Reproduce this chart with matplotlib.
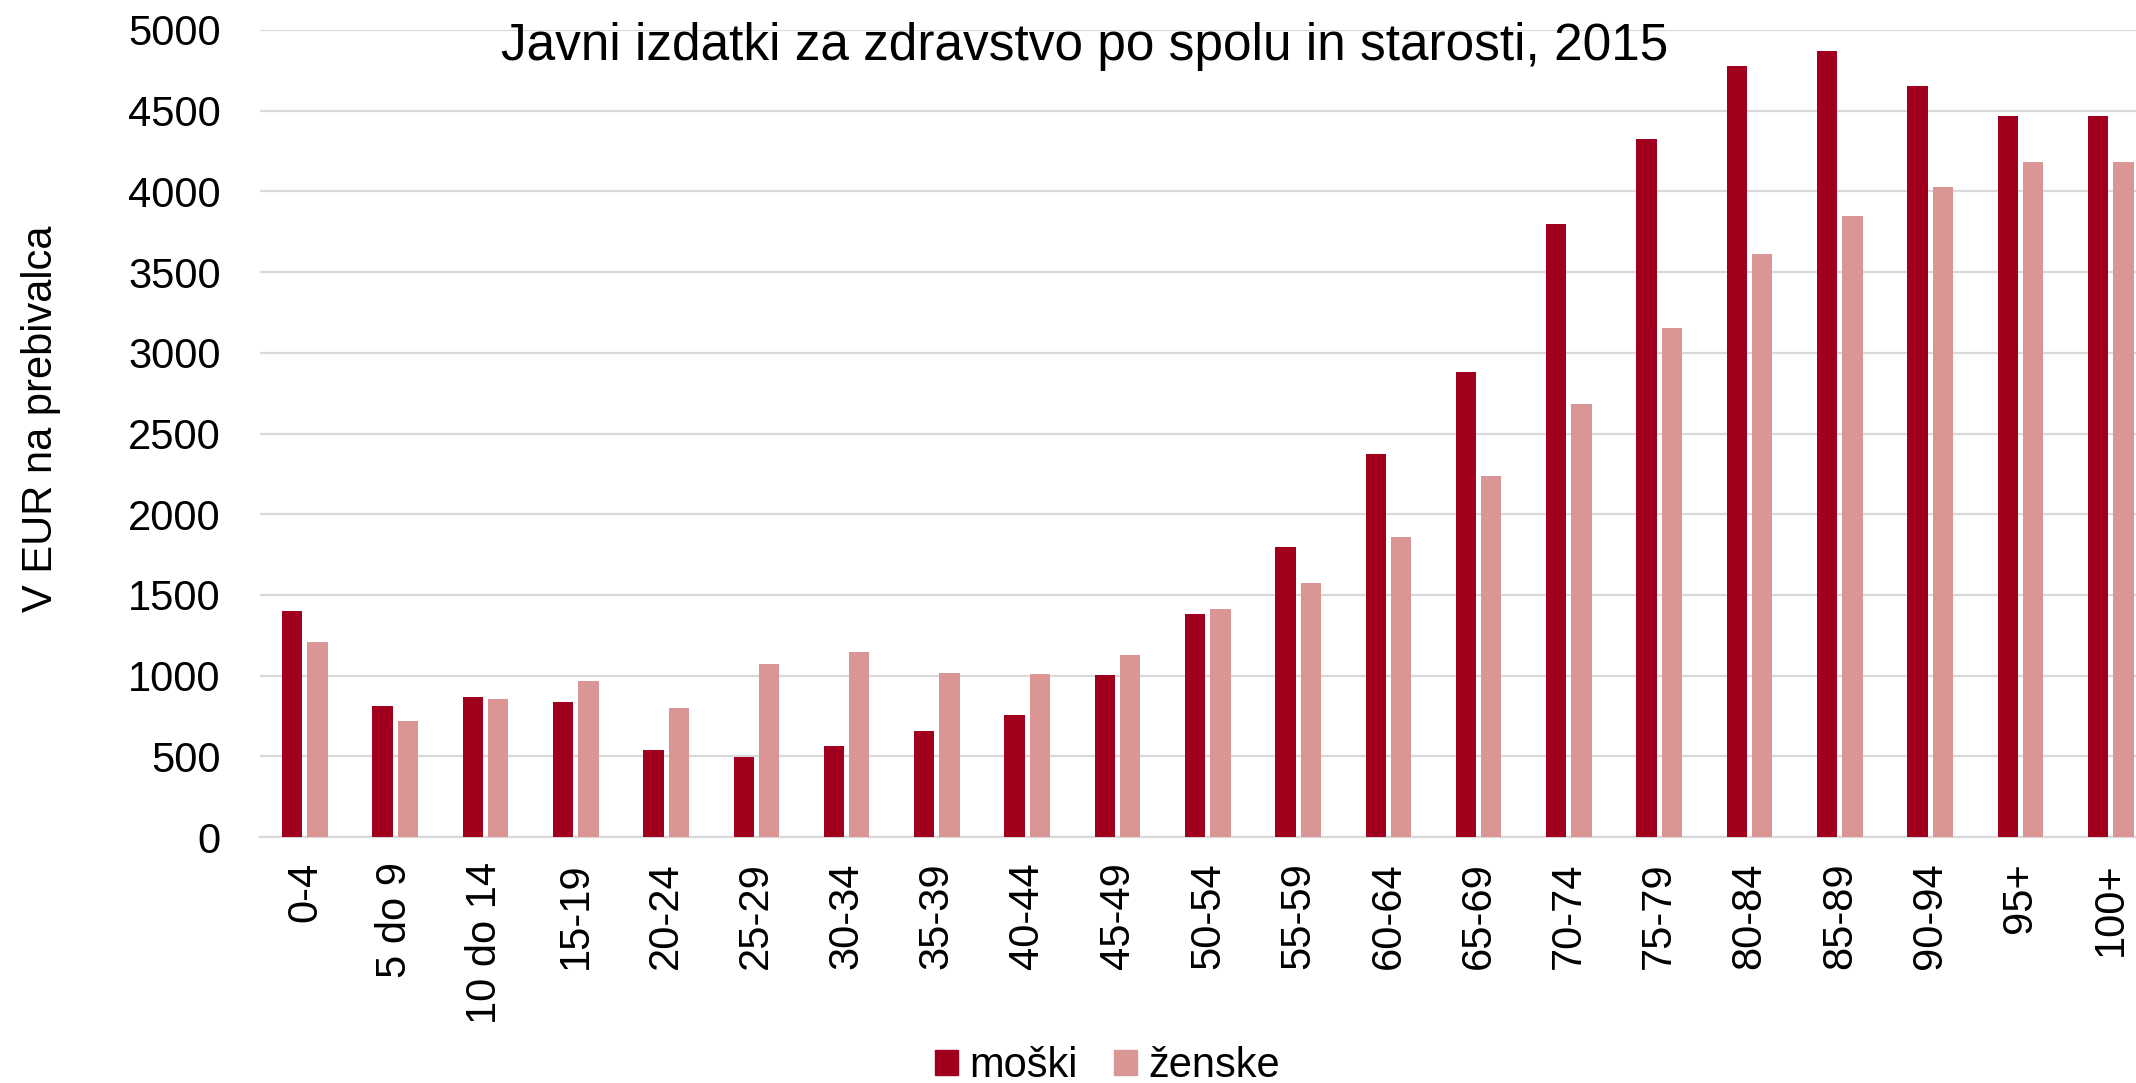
import matplotlib.pyplot as plt
import numpy as np
from matplotlib.patches import Patch

plt.rcParams["font.family"] = ["Liberation Sans", "DejaVu Sans"]

# age groups and spending per inhabitant (EUR), 2015
age_groups = ["0-4", "5 do 9", "10 do 14", "15-19", "20-24", "25-29", "30-34",
              "35-39", "40-44", "45-49", "50-54", "55-59", "60-64", "65-69",
              "70-74", "75-79", "80-84", "85-89", "90-94", "95+", "100+"]
male = [1403, 815, 870, 836, 540, 499, 567, 656, 757, 1002, 1382, 1800,
        2374, 2884, 3801, 4324, 4779, 4871, 4650, 4470, 4470]
female = [1206, 717, 853, 965, 802, 1070, 1148, 1019, 1012, 1128, 1410, 1576,
          1858, 2235, 2680, 3156, 3614, 3849, 4029, 4181, 4181]

male_color = "#A0001E"
female_color = "#D99694"
grid_color = "#D9D9D9"

fig = plt.figure(figsize=(21.36, 10.83), dpi=100)
ax = fig.add_axes([0.1216, 0.2271, 1.0 - 0.1216, 0.9723 - 0.2271])

x = np.arange(len(age_groups))
w = 0.225
off = 0.14
ax.bar(x - off, male, w, color=male_color, zorder=3)
ax.bar(x + off, female, w, color=female_color, zorder=3)

ax.set_xlim(-0.5, 20.28)
ax.set_ylim(0, 5000)
ax.set_yticks(np.arange(0, 5001, 500))
ax.set_xticks(x)
ax.set_xticklabels(age_groups, rotation=90, va="top", ha="center")
ax.tick_params(axis="y", length=0, pad=28, labelsize=30)
ax.tick_params(axis="x", length=0, pad=18, labelsize=30)

ax.grid(axis="y", color=grid_color, linewidth=1.6, zorder=0)
for s in ["top", "right", "left"]:
    ax.spines[s].set_visible(False)
ax.spines["bottom"].set_color(grid_color)
ax.spines["bottom"].set_linewidth(1.6)

fig.text(0.019, 0.613, "V EUR na prebivalca", rotation=90, ha="center",
         va="center", fontsize=30)
fig.text(0.508, 0.9446, "Javni izdatki za zdravstvo po spolu in starosti, 2015",
         ha="center", va="baseline", fontsize=37)

handles = [Patch(color=male_color), Patch(color=female_color)]
fig.legend(handles, ["moški", "ženske"], loc="center",
           bbox_to_anchor=(0.5185, 0.0157), ncol=2, frameon=False,
           fontsize=30, handlelength=0.55, handleheight=0.55,
           handletextpad=0.28, columnspacing=0.87, borderpad=0)

fig.savefig("out.png", dpi=100)
